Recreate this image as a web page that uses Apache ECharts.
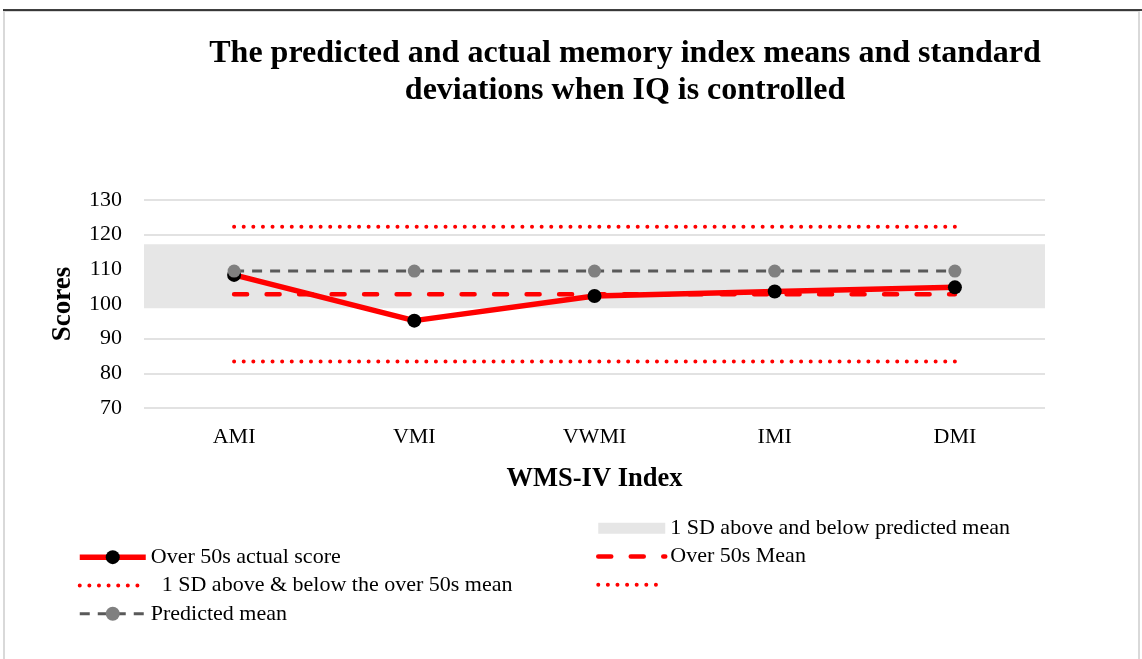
<!DOCTYPE html>
<html>
<head>
<meta charset="utf-8">
<script src="https://cdn.jsdelivr.net/npm/echarts@6/dist/echarts.min.js"></script>
<style>
html,body{margin:0;padding:0;background:#fff;}
#chart{width:1142px;height:659px;}
</style>
</head>
<body>
<div id="chart"></div>
<script>
// ---- data ----
const categories = ['AMI', 'VMI', 'VWMI', 'IMI', 'DMI'];
const actualScores = [108.4, 95.2, 102.3, 103.6, 104.8];
const predictedMean = [109.5, 109.5, 109.5, 109.5, 109.5];
const over50sMean = [102.8, 102.8, 102.8, 102.8, 102.8];
const sdAboveOver50s = [122.3, 122.3, 122.3, 122.3, 122.3];
const sdBelowOver50s = [83.4, 83.4, 83.4, 83.4, 83.4];
const predictedBand = [98.8, 117.2]; // 1 SD below / above predicted mean
const yTicks = [70, 80, 90, 100, 110, 120, 130];

const titleText = 'The predicted and actual memory index means and standard\ndeviations when IQ is controlled';
const names = {
  band: '1 SD above and below predicted mean',
  actual: 'Over 50s actual score',
  mean: 'Over 50s Mean',
  sd: '  1 SD above & below the over 50s mean',
  sd2: ' ',
  pred: 'Predicted mean'
};

const FONT = 'Liberation Serif';
const chart = echarts.init(document.getElementById('chart'), null, {renderer: 'canvas'});

const option = {
  backgroundColor: '#ffffff',
  animation: false,
  graphic: [
    {type: 'rect', silent: true, z: -10, shape: {x: 4, y: 11, width: 1135, height: 700},
      style: {fill: 'none', stroke: '#d9d9d9', lineWidth: 2}},
    {type: 'line', silent: true, z: -9, shape: {x1: 3, y1: 10, x2: 1142, y2: 10},
      style: {stroke: '#000000', lineWidth: 1.5}}
  ],
  title: {
    text: titleText,
    left: 625,
    textAlign: 'center',
    top: 35,
    padding: 0,
    textStyle: {fontFamily: FONT, fontWeight: 'bold', fontSize: 32, lineHeight: 37, color: '#000000'}
  },
  grid: {left: 144, right: 97, top: 200, bottom: 251, containLabel: false},
  xAxis: {
    type: 'category',
    data: categories,
    boundaryGap: true,
    name: 'WMS-IV Index',
    nameLocation: 'middle',
    nameGap: 58,
    nameTextStyle: {fontFamily: FONT, fontWeight: 'bold', fontSize: 26.5, color: '#000000'},
    axisLine: {show: false},
    axisTick: {show: false},
    axisLabel: {fontFamily: FONT, fontSize: 22, color: '#000000', margin: 18}
  },
  yAxis: {
    type: 'value',
    min: yTicks[0],
    max: yTicks[yTicks.length - 1],
    interval: 10,
    name: 'Scores',
    nameLocation: 'middle',
    nameGap: 67,
    nameRotate: 90,
    nameTextStyle: {fontFamily: FONT, fontWeight: 'bold', fontSize: 27, color: '#000000'},
    axisLine: {show: false},
    axisTick: {show: false},
    axisLabel: {fontFamily: FONT, fontSize: 22, color: '#000000', margin: 22},
    splitLine: {show: true, lineStyle: {color: '#d9d9d9', width: 1.5}}
  },
  legend: [
    {
      orient: 'vertical',
      left: 72,
      top: 538,
      itemWidth: 66,
      itemHeight: 17.5,
      itemGap: 0,
      textStyle: {fontFamily: FONT, fontSize: 22, color: '#000000', lineHeight: 28.3},
      data: [
        {name: names.actual, lineStyle: {width: 5.5}},
        {name: names.sd, itemStyle: {opacity: 0}, lineStyle: {width: 4}},
        {name: names.pred, lineStyle: {width: 3}}
      ]
    },
    {
      orient: 'vertical',
      left: 591,
      top: 509,
      itemWidth: 67,
      itemHeight: 11,
      itemGap: 0,
      textStyle: {fontFamily: FONT, fontSize: 22, color: '#000000', lineHeight: 28.3},
      data: [
        {name: names.band, icon: 'rect'},
        {name: names.mean, itemStyle: {opacity: 0}, lineStyle: {width: 4.5}},
        {name: names.sd2, itemStyle: {opacity: 0}, lineStyle: {width: 4}}
      ]
    }
  ],
  series: [
    {
      name: names.band,
      type: 'line',
      data: [],
      color: '#e6e6e6',
      z: 1,
      markArea: {
        silent: true,
        itemStyle: {color: '#e6e6e6'},
        data: [[{yAxis: predictedBand[0]}, {yAxis: predictedBand[1]}]]
      }
    },
    {
      name: names.sd,
      type: 'line',
      data: sdAboveOver50s,
      symbol: 'none',
      color: '#ff0000',
      z: 2,
      lineStyle: {color: '#ff0000', width: 4, type: [0.01, 9.6], cap: 'round'}
    },
    {
      name: names.sd2,
      type: 'line',
      data: sdBelowOver50s,
      symbol: 'none',
      color: '#ff0000',
      z: 2,
      lineStyle: {color: '#ff0000', width: 4, type: [0.01, 9.6], cap: 'round'}
    },
    {
      name: names.mean,
      type: 'line',
      data: over50sMean,
      symbol: 'none',
      color: '#ff0000',
      z: 3,
      lineStyle: {color: '#ff0000', width: 4.5, type: [13, 19.5], cap: 'round'}
    },
    {
      name: names.actual,
      type: 'line',
      data: actualScores,
      symbol: 'circle',
      symbolSize: 14,
      z: 4,
      itemStyle: {color: '#000000'},
      lineStyle: {color: '#ff0000', width: 5.5}
    },
    {
      name: names.pred,
      type: 'line',
      data: predictedMean,
      symbol: 'circle',
      symbolSize: 13,
      z: 5,
      itemStyle: {color: '#808080'},
      lineStyle: {color: '#595959', width: 3, type: [10, 8]}
    }
  ]
};
chart.setOption(option);
</script>
</body>
</html>
